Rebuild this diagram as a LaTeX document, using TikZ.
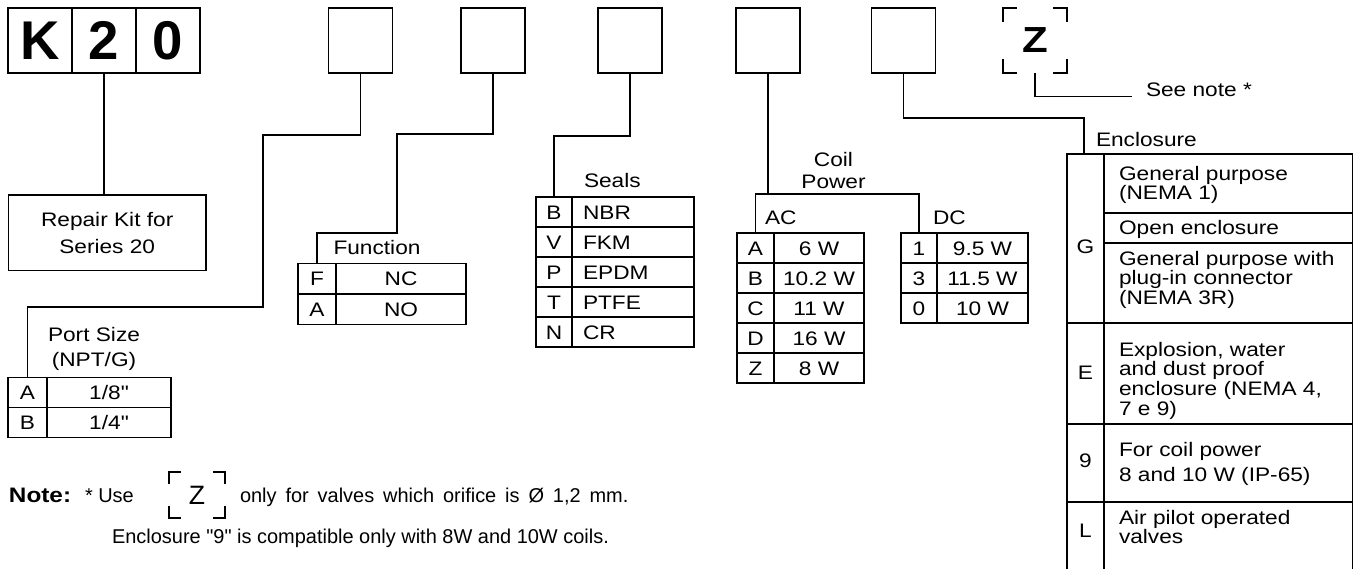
\documentclass[tikz,border=0pt]{standalone}
\usepackage{fontspec}
\setmainfont{Liberation Sans}[Ligatures=TeXOff]
\newfontfamily\widefont[FakeStretch=1.16, Ligatures=TeXOff]{Liberation Sans}
\usepackage{tikz}
\usetikzlibrary{positioning}
\newcommand{\cellfont}{\widefont\fontsize{13.9}{15}\selectfont}
\newcommand{\cellskip}[1]{\widefont\fontsize{13.9}{#1}\selectfont}
\newcommand{\notefont}{\fontsize{14.2}{16}\selectfont}
% the four corner marks round an optional letter
\newcommand{\zmarks}[2]{%
  \draw[bracket] (#1.north west) ++(0,#2) -- ++(0,-#2) -- ++(#2,0);
  \draw[bracket] (#1.north east) ++(-#2,0) -- ++(#2,0) -- ++(0,#2);
  \draw[bracket] (#1.south west) ++(0,-#2) -- ++(0,#2) -- ++(#2,0);
  \draw[bracket] (#1.south east) ++(-#2,0) -- ++(#2,0) -- ++(0,-#2);}

\begin{document}
\begin{tikzpicture}[
  x=0.025cm, y=-0.025cm,
  line width=0.9pt,
  every node/.style={font=\cellfont, inner sep=0pt, outer sep=0pt},
  codebox/.style={draw, minimum width=1.6cm, minimum height=1.625cm},
  kcell/.style={codebox, font=\fontsize{38.8}{40}\selectfont\bfseries},
  keycell/.style={draw, minimum height=0.75cm, text height=10pt, text depth=0pt},
  valcell/.style={draw, minimum height=0.75cm, text height=10pt, text depth=0pt},
  sealval/.style={valcell, text width=2.5cm, align=left, inner xsep=0.275cm},
  head/.style={align=center, anchor=north},
  enctext/.style={anchor=north west, align=left},
  bracket/.style={line width=1.8pt}
]
\useasboundingbox (0,0) rectangle (1354,569);

% code boxes
\node[kcell] (k1) at (40,40.5) {K};
\node[kcell, right=0pt of k1] (k2) {2};
\node[kcell, right=0pt of k2] (k3) {0};
\node[codebox] (b1) at (360.5,40.5) {};
\node[codebox] (b2) at (493,40.5) {};
\node[codebox] (b3) at (630,40.5) {};
\node[codebox] (b4) at (768,40.5) {};
\node[codebox] (b5) at (903.7,40.5) {};
\node[minimum width=1.6cm, minimum height=1.625cm,
      font=\widefont\bfseries\fontsize{25.8}{28}\selectfont] (zsel) at (1035,40.5) {Z};
\zmarks{zsel}{14}
\node[anchor=base west, inner xsep=0.35cm] (seenote) at (1132,96.7) {See note *};

% series
\node[draw, align=center, minimum width=4.94cm, minimum height=1.89cm,
      font=\cellskip{19.2}] (repair) at (107.2,232.8) {Repair Kit for\\Series 20};

% port size
\node[head, font=\cellskip{17.8}] (portlbl) at (94,327.8) {Port Size\\(NPT/G)};
\node[keycell, minimum width=0.975cm] (portA) at (27.5,392.2) {A};
\node[valcell, minimum width=3.1cm, right=0pt of portA] (portvA) {1/8"};
\node[keycell, minimum width=0.975cm] (portB) at (27.5,422.7) {B};
\node[valcell, minimum width=3.1cm, right=0pt of portB] (portvB) {1/4"};

% function
\node[anchor=base] (funclbl) at (377,255) {Function};
\foreach \k/\v [count=\i from 0] in {F/NC,A/NO} {
  \node[keycell, minimum width=0.95cm] (func\k) at (317,278.5+31*\i) {\k};
  \node[valcell, minimum width=3.25cm, right=0pt of func\k] (funcv\k) {\v};
}

% seals
\node[anchor=base west] (seallbl) at (584,188) {Seals};
\foreach \k/\v [count=\i from 0] in {B/NBR,V/FKM,P/EPDM,T/PTFE,N/CR} {
  \node[keycell, minimum width=0.9cm] (seal\k) at (554,212+30*\i) {\k};
  \node[sealval, right=0pt of seal\k] (sealv\k) {\v};
}

% coil power
\node[head, font=\cellskip{15}] (coillbl) at (833.5,152.8) {Coil\\Power};
\node[anchor=base west] (aclbl) at (765,225) {AC};
\node[anchor=base west] (dclbl) at (933,225) {DC};
\foreach \k/\v [count=\i from 0] in {A/6 W,B/10.2 W,C/11 W,D/16 W,Z/8 W} {
  \node[keycell, minimum width=0.925cm] (ac\k) at (755.5,248+30*\i) {\k};
  \node[valcell, minimum width=2.25cm, right=0pt of ac\k] (acv\k) {\v};
}
\foreach \k/\v [count=\i from 0] in {1/9.5 W,3/11.5 W,0/10 W} {
  \node[keycell, minimum width=0.9cm] (dc\k) at (919,248+30*\i) {\k};
  \node[valcell, minimum width=2.275cm, right=0pt of dc\k] (dcv\k) {\v};
}

% enclosure
\node[anchor=base west] (encllbl) at (1096,146.7) {Enclosure};
\coordinate (enclin) at (1084,154);
\draw (1067,569) |- (1352.5,154) -- (1352.5,569);
\draw (1104,154) -- (1104,569);
\foreach \y in {323,424,502} \draw (1067,\y) -- (1352.5,\y);
\foreach \y in {213,243} \draw (1104,\y) -- (1352.5,\y);
\node[anchor=base] (keyG) at (1085.5,254) {G};
\node[anchor=base] (keyE) at (1085.5,380) {E};
\node[anchor=base] (key9) at (1085.5,468) {9};
\node[anchor=base] (keyL) at (1085.5,537) {L};
\node[enctext, font=\cellskip{12.2}] (encG1) at (1119,166) {General purpose\\(NEMA 1)};
\node[anchor=base west] (encG2) at (1119,235) {Open enclosure};
\node[enctext, font=\cellskip{12.2}] (encG3) at (1119,251) {General purpose with\\plug-in connector\\(NEMA 3R)};
\node[enctext, font=\cellskip{12.4}] (encE) at (1119,342) {Explosion, water\\and dust proof\\enclosure (NEMA 4,\\7 e 9)};
\node[enctext, font=\cellskip{17.6}] (enc9) at (1119,442.5) {For coil power\\8 and 10 W (IP-65)};
\node[enctext, font=\cellskip{12.6}] (encL) at (1119,510) {Air pilot operated\\valves};

% links
\draw (k2.south) -- (k2.south |- repair.north);
\draw (b1.south) |- (263,135) |- (portA.north |- 0,307) -- (portA.north);
\draw (b2.south) |- (397,134) |- (funcF.north |- 0,233) -- (funcF.north);
\draw (b3.south) |- (sealB.north |- 0,136) -- (sealB.north);
\draw (b4.south) -- (b4.south |- 0,194);
\draw (acA.north) |- (dc1.north |- 0,194) -- (dc1.north);
\draw (b5.south) |- (enclin |- 0,118) -- (enclin);
\draw (zsel.south) |- (seenote.base west);

% note
\node[anchor=base west, font=\widefont\fontsize{14.9}{16}\selectfont\bfseries] (notehd) at (9,502.7) {Note:};
\node[anchor=base west, font=\notefont] (noteuse) at (85,502.7) {* Use};
\node[minimum width=1.4cm, minimum height=1.15cm, font=\fontsize{18.9}{20}\selectfont] (znote) at (197,495) {Z};
\zmarks{znote}{12}
\node[anchor=base west, font=\notefont] (notetxt) at (240,502.7)
  {\spaceskip=0.445em\relax only for valves which orifice is Ø 1,2 mm.};
\node[anchor=base west, font=\notefont] (note2) at (112,543) {Enclosure "9" is compatible only with 8W and 10W coils.};
\end{tikzpicture}
\end{document}
